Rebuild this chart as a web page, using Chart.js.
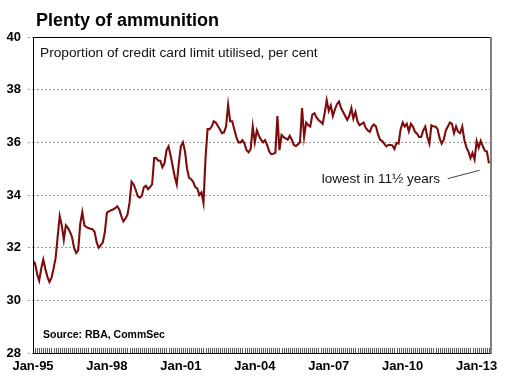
<!DOCTYPE html>
<html>
<head>
<meta charset="utf-8">
<script src="https://cdn.jsdelivr.net/npm/chart.js@4/dist/chart.umd.min.js"></script>
<style>html,body{margin:0;padding:0;background:#fff}</style>
</head>
<body>
<canvas id="c" width="505" height="390"></canvas>
<script>
// Proportion of credit card limit utilised, per cent — monthly, from Jan-95
const values1995 = [31.5,31.4,31.0,30.75,31.2,31.55,31.2,30.9,30.7,30.85,31.2,31.6];
const values1996 = [32.4,33.2,32.85,32.3,32.85,32.75,32.6,32.4,32.0,31.8,31.9,32.9];
const values1997 = [33.35,32.85,32.78,32.75,32.72,32.7,32.6,32.2,32.0,32.1,32.2,32.6];
const values1998 = [33.33,33.38,33.42,33.45,33.5,33.57,33.45,33.2,33.0,33.1,33.25,33.7];
const values1999 = [34.5,34.4,34.2,33.95,33.9,33.97,34.3,34.35,34.22,34.3,34.4,35.4];
const values2000 = [35.4,35.3,35.3,35.05,35.2,35.7,35.85,35.5,35.1,34.7,34.4,35.2];
const values2001 = [35.85,36.0,35.66,35.0,34.65,34.6,34.5,34.3,34.25,34.0,34.1,33.7];
const values2002 = [35.4,36.5,36.5,36.6,36.8,36.75,36.62,36.5,36.35,36.38,36.6,37.42];
const values2003 = [36.8,36.8,36.5,36.2,36.0,36.0,36.08,35.95,35.7,35.62,35.75,36.6];
const values2004 = [36.0,36.45,36.25,36.1,36.0,36.08,35.9,35.65,35.55,35.57,35.6,37.0];
const values2005 = [35.7,36.28,36.2,36.15,36.1,36.25,36.1,35.9,35.86,35.92,36.0,37.3];
const values2006 = [36.2,36.75,36.65,36.6,37.05,37.1,36.95,36.85,36.78,36.7,37.1,37.6];
const values2007 = [37.2,37.4,37.0,37.25,37.45,37.55,37.3,37.15,37.0,36.85,37.0,37.3];
const values2008 = [36.9,37.15,36.8,36.65,36.7,36.75,36.55,36.45,36.4,36.6,36.68,36.6];
const values2009 = [36.3,36.1,36.05,35.95,35.85,35.9,35.9,35.88,35.75,35.98,35.95,36.5];
const values2010 = [36.75,36.6,36.7,36.42,36.7,36.6,36.4,36.33,36.2,36.2,36.45,36.6];
const values2011 = [36.2,35.95,36.65,36.6,36.6,36.5,36.15,35.95,36.1,36.45,36.6,36.75];
const values2012 = [36.7,36.35,36.6,36.4,36.35,36.6,36.1,35.82,35.65,35.4,35.6,35.35];
const values2013 = [36.05,35.8,36.05,35.85,35.68,35.65,35.2];

const tickMonths = [0,36,72,108,144,180,216];           // months since Jan-95
const tickLabels = ['Jan-95','Jan-98','Jan-01','Jan-04','Jan-07','Jan-10','Jan-13'];
const yTicks = [28,30,32,34,36,38,40];

const values = [].concat(values1995,values1996,values1997,values1998,values1999,values2000,
  values2001,values2002,values2003,values2004,values2005,values2006,values2007,values2008,
  values2009,values2010,values2011,values2012,values2013);
const points = values.map((v,i)=>({x:i,y:v}));

const FONT = '"Liberation Sans", Arial, sans-serif';

const decor = {
  id:'decor',
  afterDraw(chart){
    const {ctx, chartArea:a, scales:{x,y}} = chart;
    ctx.save();
    // minor monthly ticks along the bottom
    ctx.strokeStyle = '#555'; ctx.lineWidth = 1;
    ctx.beginPath();
    for (let i=0;i<=223;i++){
      const px = Math.round(x.getPixelForValue(i))+0.5;
      ctx.moveTo(px, a.bottom-5); ctx.lineTo(px, a.bottom);
    }
    ctx.stroke();
    // box
    ctx.strokeStyle = '#000'; ctx.lineWidth = 1;
    ctx.beginPath();
    ctx.moveTo(a.left+0.5, a.bottom+0.5); ctx.lineTo(a.left+0.5, a.top+0.5); ctx.lineTo(a.right, a.top+0.5);
    ctx.moveTo(a.left, a.bottom+0.5); ctx.lineTo(a.right, a.bottom+0.5);
    ctx.stroke();
    ctx.strokeStyle = '#808080'; ctx.lineWidth = 2;
    ctx.beginPath(); ctx.moveTo(a.right, a.top); ctx.lineTo(a.right, a.bottom+1); ctx.stroke();

    // texts
    ctx.fillStyle = '#000'; ctx.textBaseline = 'alphabetic'; ctx.textAlign = 'left';
    ctx.font = 'bold 18px ' + FONT;
    ctx.fillText('Plenty of ammunition', 36, 26);
    ctx.fillStyle = '#111';
    ctx.font = '13.7px ' + FONT;
    ctx.fillText('Proportion of credit card limit utilised, per cent', 40, 57);
    ctx.font = 'bold 10.5px ' + FONT;
    ctx.fillStyle = '#000';
    ctx.fillText('Source: RBA, CommSec', 43, 338);
    // annotation
    ctx.font = '13.5px ' + FONT;
    ctx.fillStyle = '#111';
    ctx.fillText('lowest in 11\u00BD years', x.getPixelForValue(140.6), y.getPixelForValue(34.46));
    ctx.strokeStyle = '#444'; ctx.lineWidth = 1;
    ctx.beginPath();
    ctx.moveTo(x.getPixelForValue(201.9), y.getPixelForValue(34.62));
    ctx.lineTo(x.getPixelForValue(217.5), y.getPixelForValue(34.94));
    ctx.stroke();
    ctx.restore();
  }
};

new Chart(document.getElementById('c'), {
  type:'line',
  data:{datasets:[{data:points, borderColor:'#7d0d0d', borderWidth:2.1, pointRadius:0, tension:0, fill:false}]},
  options:{
    responsive:false, animation:false, devicePixelRatio:1,
    layout:{padding:{top:37,right:14,left:0,bottom:0}},
    plugins:{legend:{display:false}, tooltip:{enabled:false}, title:{display:false}},
    scales:{
      x:{type:'linear', min:0, max:223,
        afterBuildTicks:s=>{ s.ticks = tickMonths.map(v=>({value:v})); },
        afterFit:s=>{ s.height = 37; },
        grid:{display:false, drawTicks:false}, border:{display:false},
        ticks:{autoSkip:false, maxRotation:0, padding:6, color:'#000',
          font:{family:FONT, size:13, weight:'bold'},
          callback:(v)=>{ const i = tickMonths.indexOf(v); return i>=0 ? tickLabels[i] : ''; }}
      },
      y:{min:28, max:40,
        afterBuildTicks:s=>{ s.ticks = yTicks.map(v=>({value:v})); },
        afterFit:s=>{ s.width = 33; },
        grid:{color:'#999', lineWidth:1, tickLength:5, tickColor:'#999', tickBorderDash:[2,2]},
        border:{display:false, dash:[2,2]},
        ticks:{padding:7, color:'#000', font:{family:FONT, size:13, weight:'bold'}}
      }
    }
  },
  plugins:[decor]
});
</script>
</body>
</html>
